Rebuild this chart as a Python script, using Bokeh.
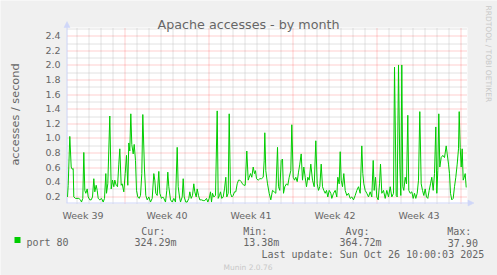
import math
from bokeh.plotting import figure
from bokeh.models import Range1d
from bokeh.core.properties import value
from bokeh.embed import file_html
from bokeh.resources import INLINE

# ---------------- data ----------------
title = "Apache accesses - by month"
y_label = "accesses / second"
series_name = "port 80"

# hours since the left edge of the graph (33.3 days shown)
hours = [0, 1.4, 4.6, 7.4, 9.4, 11.4, 12.6, 16, 22.6, 26, 28, 30.6, 32.6, 34.6, 36.6, 39.4, 41.4, 44.6,
         47.4, 50, 52.6, 54.6, 57.4, 59.4, 61.4, 64.6, 68, 71.4, 74, 76.6, 78, 80.6, 84.6, 87.4, 90,
         92.6, 94.6, 97.4, 100, 102.6, 104.6, 107.4, 109.4, 112.6, 115.4, 118, 120.6, 122.6, 124.6,
         126.6, 128.6, 131.4, 133.4, 136, 138, 140.6, 143.4, 146, 148.6, 150.6, 154, 156.6, 159.4,
         162.6, 166, 169.4, 172.6, 174.6, 176.6, 179.4, 182.6, 184.6, 188, 190.6, 192.6, 196, 198.6,
         200.6, 202.6, 206, 209.4, 212.6, 216, 219.4, 221.4, 224, 226, 229.4, 231.4, 233.4, 236.6,
         239.4, 242.6, 244.6, 247.4, 250, 252.6, 254.6, 257.4, 259.4, 262, 264.6, 268, 271.4, 274.6,
         278, 280.6, 283.4, 286, 288, 290, 292.6, 296, 299.4, 301.4, 304, 306, 308.6, 311.4, 314,
         316.6, 318.6, 321.4, 323.4, 326, 328.6, 331.4, 334, 336.6, 339.4, 342, 344.6, 347.4, 350,
         352.6, 355.4, 358.6, 361.4, 363.4, 366, 368.6, 371.4, 374, 376, 378, 381.4, 384.6, 388,
         391.4, 393.4, 394.6, 396.6, 400, 403.4, 406.6, 410, 413.4, 416.6, 420, 422, 424.6, 427.4,
         430, 432, 434.6, 438, 440.6, 443.4, 446.6, 448.6, 451.4, 454, 456.6, 459.4, 462, 464.6,
         467.4, 470, 472.6, 475.4, 478, 480.6, 483.4, 486.6, 490, 493.4, 496.6, 499.4, 502, 504.6,
         507.4, 510, 512.6, 515.4, 518, 520.6, 523.4, 526.6, 528.6, 532, 535.4, 538.6, 540.6, 543.4,
         545.4, 547.4, 550, 552.6, 555.4, 558.6, 562, 565.4, 568.6, 572, 575.4, 578.6, 582, 585.4,
         588.6, 590.6, 592.6, 595.4, 598.6, 602, 605.4, 608.6, 611.4, 613.4, 616, 618.6, 621.4, 624,
         626, 628.6, 632, 635.4, 638.6, 642, 645.4, 648.6, 652, 654, 657.4, 659.4, 662, 664.6, 666.6,
         668.6, 670.6, 672.6, 675.4, 678, 680.6, 682.6, 685.4, 688.6, 691.4, 694, 696.6, 699.4, 702,
         704.6, 707.4, 710, 712.6, 715.4, 718, 720.6, 723.4, 726, 728.6, 731.4, 734, 736.6, 738.6,
         740.6, 742.6, 744.6, 747.4, 750.6, 754, 757.4, 759.4, 762, 764, 766, 768.6, 771.4, 774,
         776.6, 779.4, 782, 783.4, 785.4, 787.4, 789.4, 791.4, 793.4, 795.4, 797.4]

rate = [0.19, 0.35, 1.02, 0.60, 0.57, 0.58, 0.19, 0.17, 0.17, 0.15, 0.12, 0.17, 0.80, 0.28, 0.24, 0.30,
        0.19, 0.15, 0.15, 0.19, 0.44, 0.26, 0.35, 0.28, 0.17, 0.15, 0.17, 0.12, 0.17, 0.51, 0.24, 0.37,
        1.30, 0.30, 0.42, 0.33, 0.42, 0.35, 0.33, 0.64, 0.85, 0.35, 0.37, 0.26, 0.51, 0.76, 0.35, 0.93,
        0.82, 1.33, 0.91, 0.78, 0.91, 0.69, 0.28, 0.19, 0.17, 0.21, 0.51, 1.32, 0.56, 0.21, 0.15, 0.19,
        0.12, 0.17, 0.51, 0.42, 0.24, 0.21, 0.54, 0.24, 0.17, 0.19, 0.17, 0.12, 0.28, 0.53, 0.33, 0.15,
        0.12, 0.17, 0.12, 0.87, 0.33, 0.19, 0.12, 0.19, 0.44, 0.19, 0.12, 0.12, 0.17, 0.26, 0.17, 0.21,
        0.37, 0.26, 0.19, 0.30, 0.21, 0.15, 0.15, 0.14, 0.14, 0.17, 0.12, 0.17, 0.26, 0.12, 0.24, 0.19,
        0.21, 1.37, 0.17, 0.21, 0.26, 0.17, 0.19, 0.30, 0.46, 0.19, 0.24, 1.33, 0.24, 0.19, 0.21, 0.26,
        0.26, 0.37, 0.42, 0.42, 0.40, 0.37, 0.35, 0.35, 0.82, 0.42, 0.46, 0.51, 0.46, 0.60, 0.51, 0.55,
        0.44, 0.42, 0.44, 0.44, 0.46, 0.69, 1.07, 0.55, 0.37, 0.24, 0.15, 0.28, 0.26, 0.24, 0.87, 0.33,
        0.28, 0.69, 0.71, 0.24, 0.33, 0.37, 0.35, 0.46, 0.55, 1.18, 0.46, 0.42, 0.46, 0.40, 0.53, 0.64,
        0.78, 0.42, 0.60, 0.46, 0.33, 0.46, 0.42, 0.64, 0.42, 0.33, 0.96, 0.37, 0.28, 0.33, 0.64, 0.33,
        0.28, 0.24, 0.28, 0.19, 0.28, 0.24, 0.17, 0.24, 0.28, 0.19, 0.46, 0.37, 0.81, 0.42, 0.33, 0.51,
        0.28, 0.21, 0.24, 0.17, 0.19, 0.15, 0.21, 0.28, 0.33, 0.24, 0.89, 0.51, 0.37, 0.28, 0.24, 0.19,
        0.26, 0.19, 0.69, 0.28, 0.46, 0.19, 0.15, 0.37, 0.64, 0.24, 0.28, 0.17, 0.28, 0.19, 0.33, 0.19,
        0.24, 1.97, 0.21, 0.19, 2.00, 0.64, 0.21, 2.00, 0.33, 0.28, 0.46, 0.37, 1.31, 0.28, 0.24, 0.26,
        0.17, 0.24, 0.17, 0.24, 0.42, 1.36, 0.37, 0.28, 0.21, 0.30, 0.19, 0.17, 0.28, 0.37, 0.46, 0.28,
        0.51, 1.15, 0.24, 0.55, 1.33, 0.60, 0.73, 0.76, 0.73, 0.89, 0.78, 0.64, 0.51, 0.24, 0.15, 0.17,
        0.33, 0.46, 0.64, 0.85, 1.36, 0.87, 0.60, 0.85, 0.42, 0.46, 0.51, 0.32]

week_labels = ["Week 39", "Week 40", "Week 41", "Week 42", "Week 43"]
week_label_hours = [31, 199, 367, 535, 703]
week_line_hours = [115, 283, 451, 619, 787]
y_ticks = [0.2, 0.4, 0.6, 0.8, 1.0, 1.2, 1.4, 1.6, 1.8, 2.0, 2.2, 2.4]
y_tick_labels = ["0.2", "0.4", "0.6", "0.8", "1.0", "1.2", "1.4", "1.6", "1.8", "2.0", "2.2", "2.4"]
y_minor = [0.3, 0.5, 0.7, 0.9, 1.1, 1.3, 1.5, 1.7, 1.9, 2.1, 2.3, 2.5]
stat_heads = ["Cur:", "Min:", "Avg:", "Max:"]
stat_values = ["324.29m", "13.38m", "364.72m", "37.90"]
last_update = "Last update: Sun Oct 26 10:00:03 2025"
footer = "Munin 2.0.76"
side_note = "RRDTOOL / TOBI OETIKER"

# ---------------- layout ----------------
W, H = 497, 275
FL, FT, FW, FH = 67, 28, 400, 175      # graph area in pixels
X0, X1 = 0, 800                        # hours
Y0, Y1 = 0.1, 2.5                      # accesses / second
FONT = "#666666"
GREEN = "#00CC00"
AXIS = "#CFD6F8"
SANS = value("DejaVu Sans")
MONO = value("DejaVu Sans Mono")


def dx(px):
    return X0 + (px - FL) * (X1 - X0) / FW


def dy(py):
    return Y0 + (FT + FH - py) * (Y1 - Y0) / FH


def px_of_y(v):
    return FT + FH - (v - Y0) * FH / (Y1 - Y0)


def snap_y(v):
    return dy(round(px_of_y(v)) + 0.5)


p = figure(width=W, height=H, output_backend="svg", toolbar_location=None,
           x_range=Range1d(dx(0), dx(W)), y_range=Range1d(dy(H), dy(0)),
           x_axis_location=None, y_axis_location=None,
           min_border=0, min_border_left=0, min_border_right=0,
           min_border_top=0, min_border_bottom=0,
           background_fill_color="#F0F0F0", border_fill_color="#F0F0F0",
           outline_line_color=None)
p.title.text = ""
p.title.visible = False
p.grid.visible = False

# graph canvas
p.quad(left=[X0], right=[X1], bottom=[Y0], top=[dy(FT - 1)], fill_color="white", line_color=None)

# minor / major grid
day_lines = [h for h in range(week_line_hours[0] % 24, X1, 24) if h not in week_line_hours]
p.segment(x0=day_lines, x1=day_lines, y0=[Y0] * len(day_lines), y1=[Y1] * len(day_lines),
          line_color="#C4C4C4", line_width=1, line_dash="1 1")
ym = [snap_y(v) for v in y_minor]
p.segment(x0=[X0] * len(ym), x1=[X1] * len(ym), y0=ym, y1=ym,
          line_color="#C4C4C4", line_width=1, line_dash="1 1")
p.segment(x0=week_line_hours, x1=week_line_hours, y0=[Y0] * len(week_line_hours),
          y1=[Y1] * len(week_line_hours), line_color="#FF0000", line_alpha=0.38,
          line_width=1, line_dash="1 1")
yM = [snap_y(v) for v in y_ticks]
p.segment(x0=[X0] * len(yM), x1=[X1] * len(yM), y0=yM, y1=yM,
          line_color="#FF0000", line_alpha=0.38, line_width=1, line_dash="1 1")

# axes with arrows
ax_x = dx(FL - 0.5)
ax_y = dy(FT + FH - 0.5)
p.segment(x0=[ax_x], x1=[ax_x], y0=[ax_y], y1=[dy(26)], line_color=AXIS, line_width=1)
p.segment(x0=[dx(FL - 1)], x1=[dx(468)], y0=[ax_y], y1=[ax_y], line_color=AXIS, line_width=1)
p.patch(x=[dx(63.5), dx(69.5), dx(66.5)], y=[dy(27), dy(27), dy(21)],
        fill_color=AXIS, line_color=AXIS, line_width=0.5)
p.patch(x=[dx(467.5), dx(467.5), dx(473.5)], y=[dy(199.5), dy(205.5), dy(202.5)],
        fill_color=AXIS, line_color=AXIS, line_width=0.5)

# data line
p.line(hours, rate, line_color=GREEN, line_width=1)

# tick labels
p.text(x=[dx(60)] * len(y_ticks), y=y_ticks, text=y_tick_labels, text_font=SANS,
       text_font_size="9.5px", text_color=FONT, text_align="right", text_baseline="middle")
p.text(x=week_label_hours, y=[dy(215.3)] * len(week_labels), text=week_labels, text_font=SANS,
       text_font_size="9.5px", text_color=FONT, text_align="center", text_baseline="alphabetic")

# title and axis label
p.text(x=[dx(248)], y=[dy(24)], text=[title], text_font=SANS, text_font_size="12.7px",
       text_color=FONT, text_align="center", text_baseline="alphabetic")
p.text(x=[dx(15)], y=[dy(114)], text=[y_label], text_font=SANS, text_font_size="11.3px",
       text_color=FONT, text_align="center", text_baseline="alphabetic", angle=math.pi / 2)

# legend block
head_x = [140.7, 242.7, 345, 446.7]
val_x = [134, 242.7, 339, 447.3]
p.text(x=[dx(v) for v in head_x], y=[dy(231)] * 4, text=stat_heads, text_font=MONO,
       text_font_size="10px", text_color=FONT, text_align="left", text_baseline="alphabetic")
p.text(x=[dx(v) for v in val_x], y=[dy(242.3)] * 4, text=stat_values, text_font=MONO,
       text_font_size="10px", text_color=FONT, text_align="left", text_baseline="alphabetic")
p.text(x=[dx(26)], y=[dy(242.3)], text=[series_name], text_font=MONO,
       text_font_size="10px", text_color=FONT, text_align="left", text_baseline="alphabetic")
p.text(x=[dx(261)], y=[dy(254.3)], text=[last_update], text_font=MONO,
       text_font_size="10px", text_color=FONT, text_align="left", text_baseline="alphabetic")
p.quad(left=[dx(14)], right=[dx(20)], bottom=[dy(242.5)], top=[dy(236.5)],
       fill_color=GREEN, line_color=None)

# faint credits
p.text(x=[dx(247.5)], y=[dy(267)], text=[footer], text_font=SANS, text_font_size="7.5px",
       text_color="#C8C8C8", text_align="center", text_baseline="alphabetic")
p.text(x=[dx(487.5)], y=[dy(5)], text=[side_note], text_font=SANS, text_font_size="7.5px",
       text_color="#C8C8C8", text_align="left", text_baseline="alphabetic", angle=-math.pi / 2)

open("out.html", "w").write(file_html(p, INLINE))
